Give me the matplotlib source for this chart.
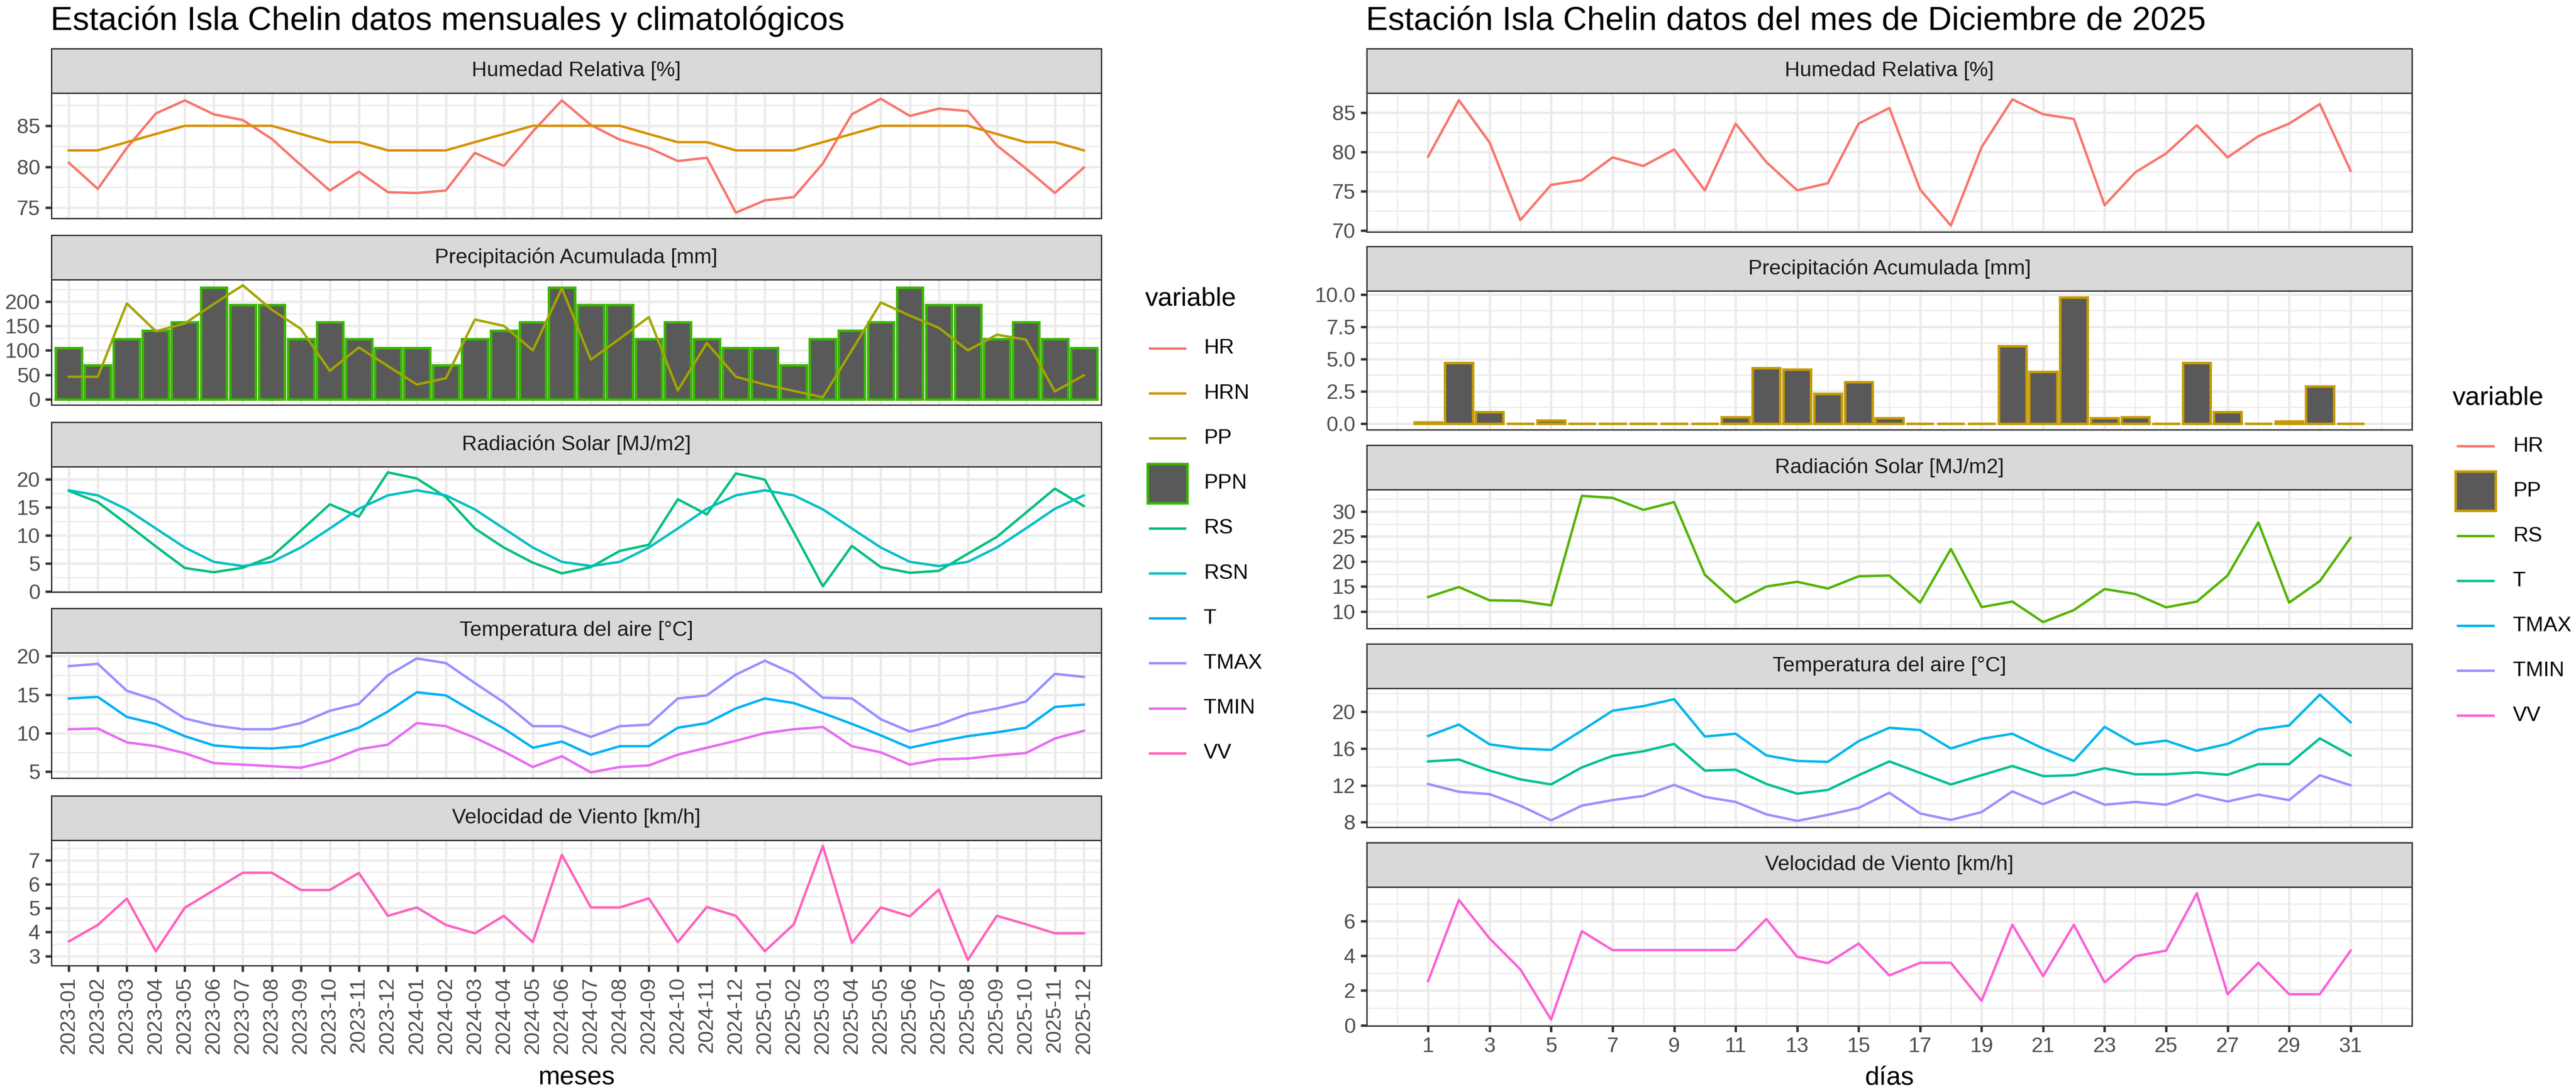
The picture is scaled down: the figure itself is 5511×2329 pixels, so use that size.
import matplotlib
matplotlib.use("Agg")
import matplotlib.pyplot as plt
from matplotlib.ticker import MultipleLocator, FixedLocator, FormatStrFormatter
from matplotlib.lines import Line2D
from matplotlib.patches import Rectangle

plt.rcParams['font.family'] = ['Liberation Sans', 'DejaVu Sans']

# ---------------- DATA ----------------
months = ['2023-01', '2023-02', '2023-03', '2023-04', '2023-05', '2023-06', '2023-07', '2023-08',
          '2023-09', '2023-10', '2023-11', '2023-12', '2024-01', '2024-02', '2024-03', '2024-04',
          '2024-05', '2024-06', '2024-07', '2024-08', '2024-09', '2024-10', '2024-11', '2024-12',
          '2025-01', '2025-02', '2025-03', '2025-04', '2025-05', '2025-06', '2025-07', '2025-08',
          '2025-09', '2025-10', '2025-11', '2025-12']

HR_m = [80.5, 77.3, 82.3, 86.5, 88.1, 86.4, 85.7, 83.4, 80.2, 77.1, 79.4, 76.9,
        76.8, 77.1, 81.7, 80.1, 84.3, 88.1, 85.1, 83.3, 82.3, 80.7, 81.1, 74.4,
        75.9, 76.3, 80.4, 86.4, 88.3, 86.2, 87.1, 86.8, 82.6, 79.8, 76.8, 79.9]
HRN_m = [82, 82, 83, 84, 85, 85, 85, 85, 84, 83, 83, 82,
         82, 82, 83, 84, 85, 85, 85, 85, 84, 83, 83, 82,
         82, 82, 83, 84, 85, 85, 85, 85, 84, 83, 83, 82]
PP_m = [46, 46, 196, 139, 155, 195, 233, 183, 144, 58, 106, 68,
        30, 43, 163, 150, 100, 227, 81, 124, 168, 18, 115, 46,
        30, 17, 4, 100, 198, 171, 146, 100, 132, 122, 16, 49]
PPN_m = [105, 70, 123, 140, 158, 228, 193, 193, 123, 158, 123, 105,
         105, 70, 123, 140, 158, 228, 193, 193, 123, 158, 123, 105,
         105, 70, 123, 140, 158, 228, 193, 193, 123, 158, 123, 105]
RS_m = [17.9, 15.9, 12.0, 8.0, 4.15, 3.4, 4.2, 6.2, 10.8, 15.5, 13.3, 21.2,
        20.1, 16.8, 11.2, 7.8, 5.1, 3.2, 4.3, 7.2, 8.3, 16.4, 13.7, 21.0,
        19.9, 10.5, 0.9, 8.1, 4.3, 3.3, 3.65, 6.7, 9.7, 14.0, 18.3, 15.2]
RSN_m = [18.0, 17.1, 14.6, 11.2, 7.8, 5.25, 4.5, 5.25, 7.8, 11.2, 14.7, 17.1,
         18.0, 17.1, 14.6, 11.2, 7.8, 5.25, 4.5, 5.25, 7.8, 11.2, 14.7, 17.1,
         18.0, 17.1, 14.6, 11.2, 7.8, 5.25, 4.5, 5.25, 7.8, 11.2, 14.7, 17.1]
T_m = [14.5, 14.7, 12.1, 11.2, 9.6, 8.4, 8.1, 8.0, 8.3, 9.5, 10.7, 12.8,
       15.3, 14.9, 12.7, 10.6, 8.1, 8.9, 7.2, 8.3, 8.3, 10.7, 11.3, 13.2,
       14.5, 13.9, 12.6, 11.2, 9.7, 8.1, 8.9, 9.6, 10.1, 10.7, 13.4, 13.7]
TMAX_m = [18.7, 19.0, 15.5, 14.3, 11.9, 11.0, 10.5, 10.5, 11.3, 12.9, 13.8, 17.5,
          19.7, 19.1, 16.5, 14.0, 10.9, 10.9, 9.5, 10.9, 11.1, 14.5, 14.9, 17.6,
          19.4, 17.7, 14.6, 14.5, 11.8, 10.2, 11.1, 12.5, 13.2, 14.1, 17.7, 17.3]
TMIN_m = [10.5, 10.6, 8.8, 8.3, 7.4, 6.1, 5.9, 5.7, 5.5, 6.4, 7.9, 8.5,
          11.3, 10.9, 9.4, 7.6, 5.6, 7.0, 4.9, 5.6, 5.8, 7.2, 8.1, 9.0,
          10.0, 10.5, 10.8, 8.3, 7.5, 5.9, 6.6, 6.7, 7.1, 7.4, 9.3, 10.3]
VV_m = [3.61, 4.3, 5.4, 3.2, 5.02, 5.75, 6.48, 6.48, 5.76, 5.76, 6.47, 4.68,
        5.03, 4.3, 3.95, 4.68, 3.58, 7.23, 5.03, 5.03, 5.41, 3.58, 5.05, 4.68,
        3.2, 4.33, 7.6, 3.55, 5.03, 4.66, 5.78, 2.84, 4.68, 4.33, 3.95, 3.95]

days = list(range(1, 32))
day_ticks = list(range(1, 32, 2))
HR_d = [79.4, 86.6, 81.2, 71.3, 75.8, 76.4, 79.3, 78.2, 80.3, 75.1, 83.6, 78.7, 75.1, 76.0, 83.6, 85.6,
        75.2, 70.6, 80.6, 86.7, 84.8, 84.2, 73.2, 77.4, 79.8, 83.4, 79.3, 82.0, 83.6, 86.1, 77.6]
PP_d = [0.1, 4.7, 0.9, 0.0, 0.25, 0.0, 0.0, 0.0, 0.0, 0.0, 0.5, 4.3, 4.2, 2.3, 3.2, 0.4,
        0.0, 0.0, 0.0, 6.0, 4.0, 9.8, 0.4, 0.5, 0.0, 4.7, 0.9, 0.0, 0.15, 2.9, 0.0]
RS_d = [12.9, 14.9, 12.25, 12.15, 11.25, 33.1, 32.7, 30.3, 31.85, 17.35, 11.85, 15.0, 15.95, 14.6, 17.05, 17.2,
        11.8, 22.5, 10.9, 12.0, 7.9, 10.3, 14.5, 13.5, 10.85, 12.0, 17.2, 27.8, 11.8, 16.1, 24.75]
T_d = [14.6, 14.8, 13.6, 12.65, 12.1, 13.95, 15.2, 15.7, 16.5, 13.6, 13.7, 12.15, 11.1, 11.5, 13.1, 14.6,
       13.35, 12.1, 13.1, 14.1, 13.0, 13.1, 13.85, 13.2, 13.2, 13.4, 13.15, 14.3, 14.3, 17.1, 15.25]
TMAX_d = [17.35, 18.6, 16.45, 16.0, 15.85, 17.95, 20.1, 20.6, 21.35, 17.3, 17.6, 15.25, 14.65, 14.55, 16.8, 18.25,
          18.0, 16.0, 17.05, 17.6, 16.0, 14.65, 18.35, 16.45, 16.85, 15.75, 16.5, 18.05, 18.5, 21.85, 18.85]
TMIN_d = [12.15, 11.3, 11.05, 9.8, 8.2, 9.8, 10.4, 10.85, 12.05, 10.75, 10.2, 8.85, 8.15, 8.8, 9.55, 11.2,
          8.95, 8.25, 9.1, 11.35, 9.95, 11.3, 9.9, 10.2, 9.9, 11.0, 10.25, 11.0, 10.4, 13.1, 12.0]
VV_d = [2.54, 7.22, 5.0, 3.22, 0.33, 5.42, 4.33, 4.33, 4.33, 4.33, 4.33, 6.12, 3.95, 3.58, 4.71, 2.87,
        3.6, 3.6, 1.41, 5.79, 2.83, 5.79, 2.47, 3.98, 4.3, 7.6, 1.79, 3.6, 1.79, 1.79, 4.3]

left_vars = ['HR', 'HRN', 'PP', 'PPN', 'RS', 'RSN', 'T', 'TMAX', 'TMIN', 'VV']
left_cols = ['#F8766D', '#D89000', '#A3A500', '#39B600', '#00BF7D', '#00BFC4', '#00B0F6', '#9590FF', '#E76BF3', '#FF62BC']
right_vars = ['HR', 'PP', 'RS', 'T', 'TMAX', 'TMIN', 'VV']
right_cols = ['#F8766D', '#C49A00', '#53B400', '#00C094', '#00B6EB', '#A58AFF', '#FB61D7']
strip_titles = ['Humedad Relativa [%]', 'Precipitación Acumulada [mm]', 'Radiación Solar [MJ/m2]',
                'Temperatura del aire [°C]', 'Velocidad de Viento [km/h]']

# ---------------- LAYOUT ----------------
W, H, DPI = 5511, 2329, 300
fig = plt.figure(figsize=(W / DPI, H / DPI), dpi=DPI)
fig.patch.set_facecolor('white')

GRID = '#EBEBEB'; DARK = '#333333'; TXT = '#4D4D4D'; STRIPC = '#D9D9D9'; BARF = '#595959'
LW = 1.24; FS = 10.8; FS_T = 17.0; FS_L = 13.4; STRIP_H = 95


def add_ax(x0, y0, x1, y1):
    return fig.add_axes([x0 / W, 1 - y1 / H, (x1 - x0) / W, (y1 - y0) / H])


def panel(x0, y0, x1, y1, title):
    st = add_ax(x0, y0 - STRIP_H, x1, y0)
    st.set_facecolor(STRIPC)
    st.set_xticks([]); st.set_yticks([])
    for s in st.spines.values():
        s.set_color(DARK); s.set_linewidth(0.7)
    st.text(0.5, 0.5, title, ha='center', va='center', fontsize=FS, color='#1A1A1A', transform=st.transAxes)
    ax = add_ax(x0, y0, x1, y1)
    for s in ax.spines.values():
        s.set_color(DARK); s.set_linewidth(0.7); s.set_zorder(5)
    ax.set_axisbelow(True)
    ax.grid(which='major', color=GRID, lw=LW)
    ax.grid(which='minor', color=GRID, lw=LW / 2)
    ax.tick_params(which='major', length=3.19, width=LW, color=DARK, labelsize=FS, labelcolor=TXT, pad=2.55)
    ax.tick_params(which='minor', length=0)
    return ax


def yl(ax, series, step, zero=False, fmt=None):
    lo = min(min(s) for s in series); hi = max(max(s) for s in series)
    if zero:
        lo = min(lo, 0)
    r = hi - lo
    ax.set_ylim(lo - 0.05 * r, hi + 0.05 * r)
    ax.yaxis.set_major_locator(MultipleLocator(step))
    ax.yaxis.set_minor_locator(MultipleLocator(step / 2))
    if fmt:
        ax.yaxis.set_major_formatter(FormatStrFormatter(fmt))


# ---- left chart ----
LX0, LX1 = 110, 2356
L_TOPS = [199, 598, 998, 1396, 1797]; LH = 268
xm = list(range(1, len(months) + 1))
lax = []
for i, t in enumerate(L_TOPS):
    ax = panel(LX0, t, LX1, t + LH, strip_titles[i])
    ax.set_xlim(0.4, len(months) + 0.6)
    ax.xaxis.set_major_locator(FixedLocator(xm))
    if i < 4:
        ax.tick_params(axis='x', length=0, labelbottom=False)
    lax.append(ax)

ax = lax[0]
ax.plot(xm, HR_m, color=left_cols[0], lw=LW)
ax.plot(xm, HRN_m, color=left_cols[1], lw=LW)
yl(ax, [HR_m, HRN_m], 5)

ax = lax[1]
ax.bar(xm, PPN_m, width=0.9, color=BARF, edgecolor=left_cols[3], lw=1.3)
ax.plot(xm, PP_m, color=left_cols[2], lw=LW)
yl(ax, [PP_m, PPN_m], 50, zero=True)

ax = lax[2]
ax.plot(xm, RS_m, color=left_cols[4], lw=LW)
ax.plot(xm, RSN_m, color=left_cols[5], lw=LW)
yl(ax, [RS_m, RSN_m], 5)

ax = lax[3]
ax.plot(xm, T_m, color=left_cols[6], lw=LW)
ax.plot(xm, TMAX_m, color=left_cols[7], lw=LW)
ax.plot(xm, TMIN_m, color=left_cols[8], lw=LW)
yl(ax, [T_m, TMAX_m, TMIN_m], 5)

ax = lax[4]
ax.plot(xm, VV_m, color=left_cols[9], lw=LW)
yl(ax, [VV_m], 1)
ax.set_xticklabels(months, rotation=90, ha='center', va='top')

fig.text((LX0 + LX1) / 2 / W, 1 - 2320 / H, 'meses', ha='center', va='baseline', fontsize=FS_L, color='black')
fig.text(108 / W, 1 - 64 / H, 'Estación Isla Chelin datos mensuales y climatológicos', ha='left', va='baseline',
         fontsize=FS_T, color='black')

# ---- right chart ----
RX0, RX1 = 2924, 5160
R_TOPS = [199, 622, 1047, 1472, 1897]; RH = 297
bw = 0.9
xr_lo = min(days) - bw / 2; xr_hi = max(days) + bw / 2
xr_pad = 0.05 * (xr_hi - xr_lo)
rax = []
for i, t in enumerate(R_TOPS):
    ax = panel(RX0, t, RX1, t + RH, strip_titles[i])
    ax.set_xlim(xr_lo - xr_pad, xr_hi + xr_pad)
    ax.xaxis.set_major_locator(FixedLocator(day_ticks))
    ax.xaxis.set_minor_locator(FixedLocator(list(range(0, 33, 2))))
    if i < 4:
        ax.tick_params(axis='x', length=0, labelbottom=False)
    rax.append(ax)

ax = rax[0]
ax.plot(days, HR_d, color=right_cols[0], lw=LW)
yl(ax, [HR_d], 5)

ax = rax[1]
ax.bar(days, PP_d, width=bw, color=BARF, edgecolor=right_cols[1], lw=1.3)
yl(ax, [PP_d], 2.5, zero=True, fmt='%.1f')

ax = rax[2]
ax.plot(days, RS_d, color=right_cols[2], lw=LW)
yl(ax, [RS_d], 5)

ax = rax[3]
ax.plot(days, T_d, color=right_cols[3], lw=LW)
ax.plot(days, TMAX_d, color=right_cols[4], lw=LW)
ax.plot(days, TMIN_d, color=right_cols[5], lw=LW)
yl(ax, [T_d, TMAX_d, TMIN_d], 4)

ax = rax[4]
ax.plot(days, VV_d, color=right_cols[6], lw=LW)
yl(ax, [VV_d], 2)

fig.text((RX0 + RX1) / 2 / W, 1 - 2320 / H, 'días', ha='center', va='baseline', fontsize=FS_L, color='black')
fig.text(2922 / W, 1 - 64 / H, 'Estación Isla Chelin datos del mes de Diciembre de 2025', ha='left',
         va='baseline', fontsize=FS_T, color='black')


# ---- legends ----
def legend(x_title, y_title, y0, step, names, cols, box_name, kx0, kx1, tx):
    fig.text(x_title / W, 1 - y_title / H, 'variable', ha='left', va='center', fontsize=FS_L, color='black')
    for i, (n, c) in enumerate(zip(names, cols)):
        yc = y0 + i * step
        if n == box_name:
            fig.add_artist(Rectangle((kx0 / W, 1 - (yc + 42) / H), (kx1 - kx0) / W, 84 / H,
                                     transform=fig.transFigure, facecolor=BARF, edgecolor=c, lw=1.3))
        else:
            fig.add_artist(Line2D([(kx0 + 5) / W, (kx1 - 5) / W], [1 - yc / H, 1 - yc / H],
                                  transform=fig.transFigure, color=c, lw=LW))
        fig.text(tx / W, 1 - yc / H, n, ha='left', va='center', fontsize=FS, color='black')


legend(2450, 640, 745, 96.2, left_vars, left_cols, 'PPN', 2455, 2540, 2575)
legend(5247, 851, 954, 96.0, right_vars, right_cols, 'PP', 5253, 5339, 5376)

fig.savefig('out.png', dpi=DPI, facecolor='white')
